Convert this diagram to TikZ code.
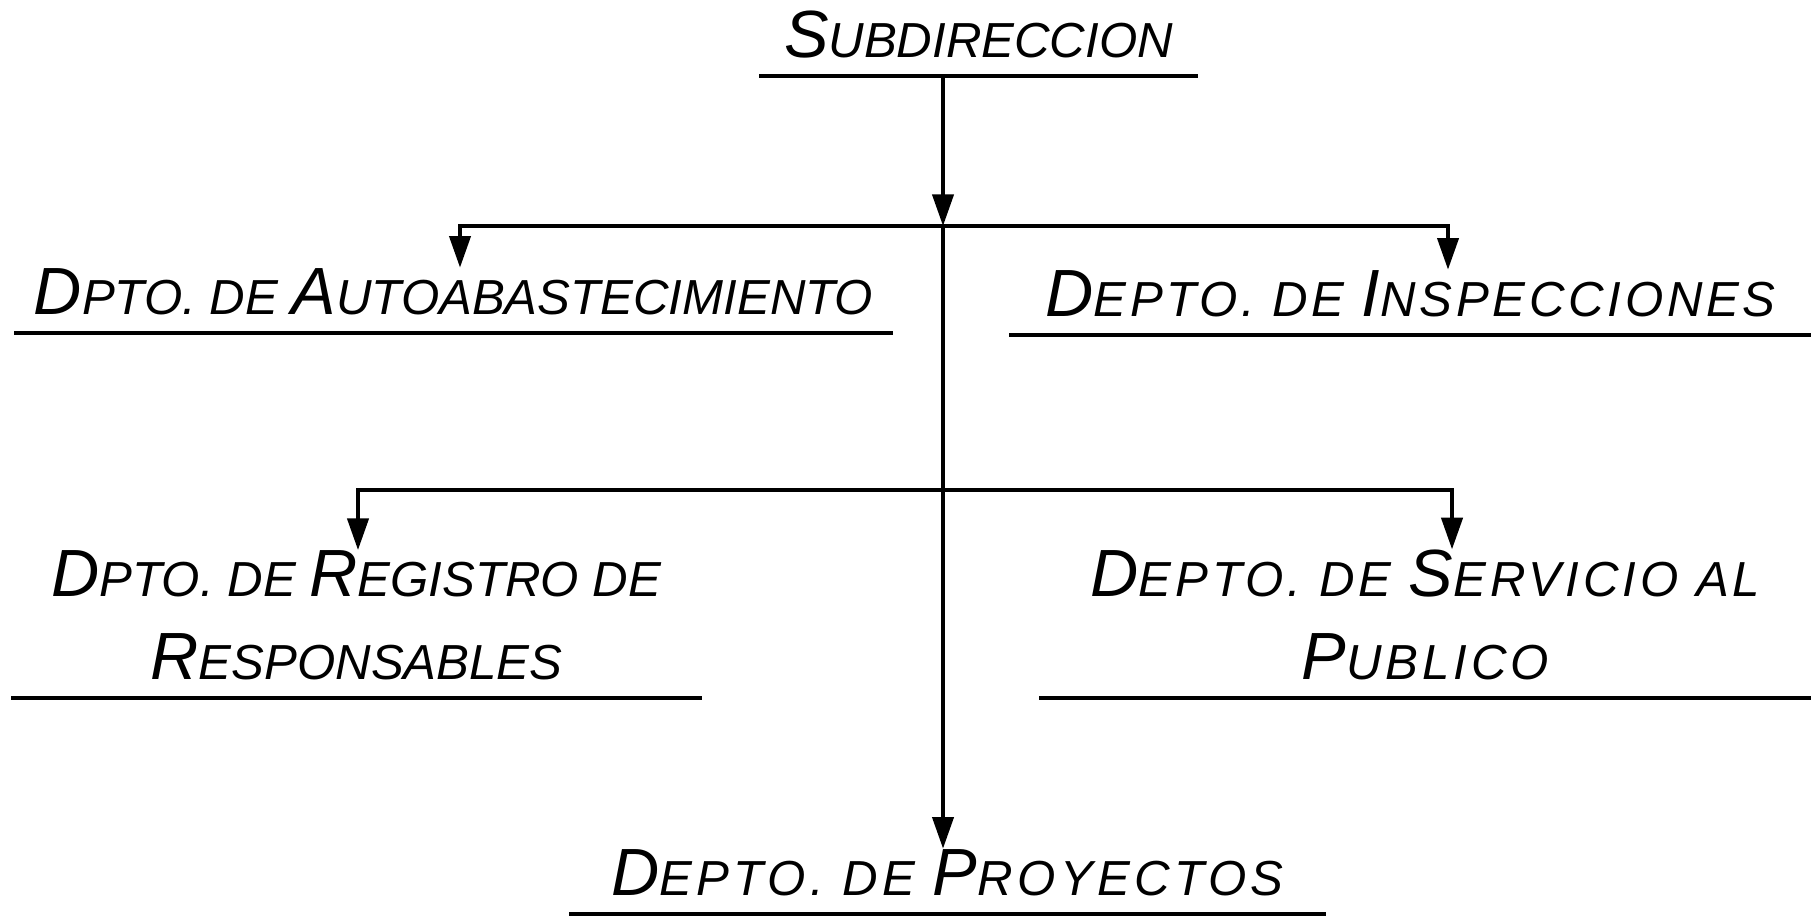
\documentclass[tikz,border=0pt]{standalone}
\usepackage{fontspec}
\setmainfont{Liberation Sans}
\usetikzlibrary{arrows.meta}
\newcommand{\Ini}[1]{{\fontsize{19}{23.5}\selectfont #1}}
\tikzset{
  dept/.style={anchor=south, inner sep=0pt, text depth=1.8mm, align=center, font=\fontsize{14}{23.5}\selectfont\itshape},
  spaced/.style={font=\fontsize{14}{23.5}\selectfont\itshape\addfontfeature{LetterSpace=#1}},
  rule/.style={line width=1.2pt},
  flow/.style={-{Triangle[length=9pt,width=6pt]}, line width=1.1pt}
}

\begin{document}
\begin{tikzpicture}
  \useasboundingbox (0,0) rectangle (18.11,-9.16);
  \node[dept, minimum width=43.7mm] (subdir) at (9.785,-0.76) {\Ini{S}UBDIRECCION};
  \node[dept, minimum width=87.7mm] (autoab) at (4.535,-3.33) {\Ini{D}PTO. DE \Ini{A}UTOABASTECIMIENTO};
  \node[dept, spaced=7.5, minimum width=80.1mm] (insp) at (14.105,-3.35) {\Ini{D}EPTO. DE \Ini{I}NSPECCIONES};
  \node[dept, minimum width=68.9mm] (regis) at (3.565,-6.98) {\Ini{D}PTO. DE \Ini{R}EGISTRO DE\\\Ini{R}ESPONSABLES};
  \node[dept, spaced=8, minimum width=77.1mm] (serv) at (14.255,-6.98) {\Ini{D}EPTO. DE \Ini{S}ERVICIO AL\\\Ini{P}UBLICO};
  \node[dept, spaced=9, minimum width=75.5mm] (proy) at (9.475,-9.14) {\Ini{D}EPTO. DE \Ini{P}ROYECTOS};

  \coordinate (b1) at (9.43,-2.26);
  \coordinate (b2) at (9.43,-4.90);
  \coordinate (autoab-in) at (4.60,0);
  \coordinate (insp-in) at (14.48,0);
  \coordinate (regis-in) at (3.58,0);
  \coordinate (serv-in) at (14.52,0);

  \draw[rule] (subdir.south west) -- (subdir.south east);
  \draw[rule] (autoab.south west) -- (autoab.south east);
  \draw[rule] (insp.south west) -- (insp.south east);
  \draw[rule] (regis.south west) -- (regis.south east);
  \draw[rule] (serv.south west) -- (serv.south east);
  \draw[rule] (proy.south west) -- (proy.south east);

  \draw[flow] (subdir.south -| b1) -- (b1);
  \draw[flow] (b1) -- (proy.north -| b1);
  \draw[flow] (b1) -| (autoab-in |- autoab.north);
  \draw[flow] (b1) -| (insp-in |- insp.north);
  \draw[flow] (b2) -| (regis-in |- regis.north);
  \draw[flow] (b2) -| (serv-in |- serv.north);
\end{tikzpicture}
\end{document}
